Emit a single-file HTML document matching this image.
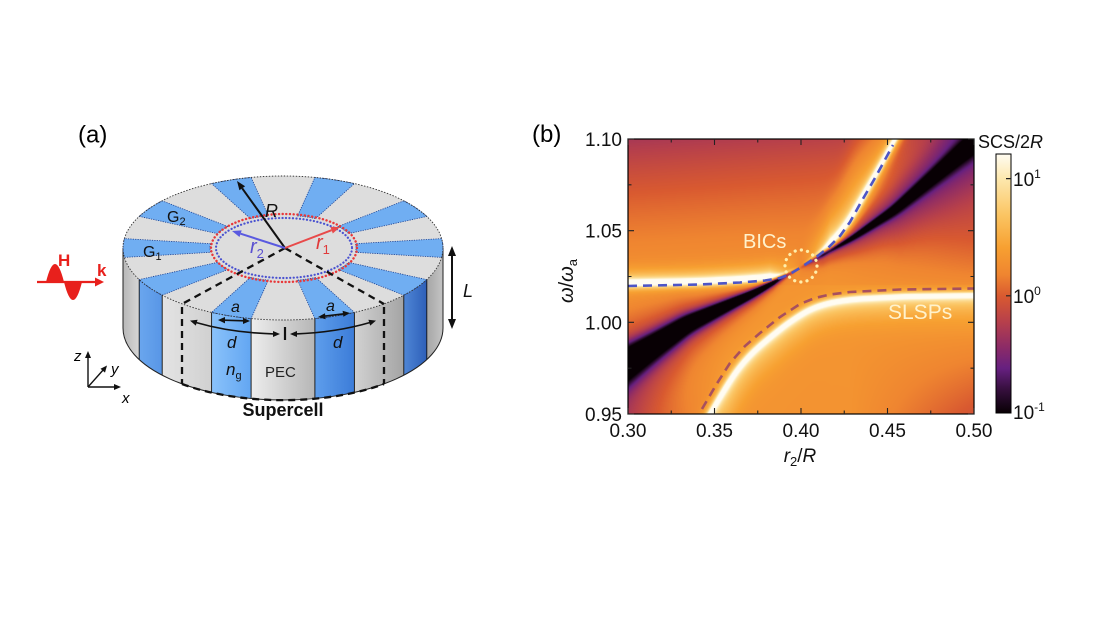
<!DOCTYPE html>
<html><head><meta charset="utf-8">
<style>
html,body{margin:0;padding:0;background:#fff;}
#wrap{position:relative;width:1110px;height:624px;overflow:hidden;background:#fff;}
#hm{position:absolute;left:628px;top:139px;width:346px;height:275px;background:linear-gradient(#c8503c,#e87a2c 40%,#f39a34 55%,#e0702c);}
svg{position:absolute;left:0;top:0;}
</style></head><body><div id="wrap">
<canvas id="hm" width="346" height="275"></canvas>
<svg width="1110" height="624" viewBox="0 0 1110 624" xmlns="http://www.w3.org/2000/svg" font-family="'Liberation Sans', Arial, sans-serif">
<defs>
<linearGradient id="gA" x1="0" x2="1" y1="0" y2="0"><stop offset="0" stop-color="#b8b8b8"/><stop offset="1" stop-color="#d6d6d6"/></linearGradient>
<linearGradient id="gB" x1="0" x2="1" y1="0" y2="0"><stop offset="0" stop-color="#e4e4e4"/><stop offset="1" stop-color="#d0d0d0"/></linearGradient>
<linearGradient id="gC" x1="0" x2="1" y1="0" y2="0"><stop offset="0" stop-color="#ededed"/><stop offset="1" stop-color="#b6b6b6"/></linearGradient>
<linearGradient id="gD" x1="0" x2="1" y1="0" y2="0"><stop offset="0" stop-color="#d2d2d2"/><stop offset="1" stop-color="#a4a4a4"/></linearGradient>
<linearGradient id="gE" x1="0" x2="1" y1="0" y2="0"><stop offset="0" stop-color="#a6a6a6"/><stop offset="1" stop-color="#c4c4c4"/></linearGradient>
<linearGradient id="b1" x1="0" x2="1" y1="0" y2="0"><stop offset="0" stop-color="#6aa6ee"/><stop offset="1" stop-color="#5896e6"/></linearGradient>
<linearGradient id="b2" x1="0" x2="1" y1="0" y2="0"><stop offset="0" stop-color="#8ac2fa"/><stop offset="1" stop-color="#62a6f2"/></linearGradient>
<linearGradient id="b3" x1="0" x2="1" y1="0" y2="0"><stop offset="0" stop-color="#5e9eec"/><stop offset="1" stop-color="#3c7cd8"/></linearGradient>
<linearGradient id="b4" x1="0" x2="1" y1="0" y2="0"><stop offset="0" stop-color="#4f86d6"/><stop offset="1" stop-color="#2d5fb8"/></linearGradient>
<linearGradient id="cb" x1="0" y1="1" x2="0" y2="0">
<stop offset="0" stop-color="#080004"/><stop offset="0.095" stop-color="#381040"/><stop offset="0.172" stop-color="#662080"/><stop offset="0.249" stop-color="#8a2a68"/><stop offset="0.353" stop-color="#b7404b"/><stop offset="0.452" stop-color="#d95a30"/><stop offset="0.534" stop-color="#ef8530"/><stop offset="0.638" stop-color="#f7a031"/><stop offset="0.765" stop-color="#fbc563"/><stop offset="0.905" stop-color="#fde8ae"/><stop offset="1" stop-color="#fffcf2"/>
</linearGradient>
</defs>

<!-- ===== Panel (a) ===== -->
<text x="78" y="142.5" font-size="24">(a)</text>

<path d="M123,248 A160,72 0 0 0 139.2,279.6 L139.2,359.6 A160,72 0 0 1 123,328 Z" fill="url(#gA)"/>
<path d="M139.2,279.6 A160,72 0 0 0 162.2,295.2 L162.2,375.2 A160,72 0 0 1 139.2,359.6 Z" fill="url(#b1)"/>
<path d="M162.2,295.2 A160,72 0 0 0 211.6,312.4 L211.6,392.4 A160,72 0 0 1 162.2,375.2 Z" fill="url(#gB)"/>
<path d="M211.6,312.4 A160,72 0 0 0 251.1,318.6 L251.1,398.6 A160,72 0 0 1 211.6,392.4 Z" fill="url(#b2)"/>
<path d="M251.1,318.6 A160,72 0 0 0 314.9,318.6 L314.9,398.6 A160,72 0 0 1 251.1,398.6 Z" fill="url(#gC)"/>
<path d="M314.9,318.6 A160,72 0 0 0 354.4,312.4 L354.4,392.4 A160,72 0 0 1 314.9,398.6 Z" fill="url(#b3)"/>
<path d="M354.4,312.4 A160,72 0 0 0 403.8,295.2 L403.8,375.2 A160,72 0 0 1 354.4,392.4 Z" fill="url(#gD)"/>
<path d="M403.8,295.2 A160,72 0 0 0 426.8,279.6 L426.8,359.6 A160,72 0 0 1 403.8,375.2 Z" fill="url(#b4)"/>
<path d="M426.8,279.6 A160,72 0 0 0 443,248 L443,328 A160,72 0 0 1 426.8,359.6 Z" fill="url(#gE)"/>
<g stroke="#111" stroke-width="0.9">
<line x1="139.2" y1="279.6" x2="139.2" y2="359.6"/><line x1="162.2" y1="295.2" x2="162.2" y2="375.2"/>
<line x1="211.6" y1="312.4" x2="211.6" y2="392.4"/><line x1="251.1" y1="318.6" x2="251.1" y2="398.6"/>
<line x1="314.9" y1="318.6" x2="314.9" y2="398.6"/><line x1="354.4" y1="312.4" x2="354.4" y2="392.4"/>
<line x1="403.8" y1="295.2" x2="403.8" y2="375.2"/><line x1="426.8" y1="279.6" x2="426.8" y2="359.6"/>
</g>
<path d="M123,248 L123,328 A160,72 0 0 0 443,328 L443,248" fill="none" stroke="#222" stroke-width="1"/>

<ellipse cx="283" cy="248" rx="160" ry="72" fill="#dddddd"/>
<g fill="#70aef2" stroke="#1c3f8f" stroke-width="0.8" stroke-dasharray="1.2 1.2">
<path d="M355.4,252.3 L441.6,257.4 A160,72 0 0 0 441.6,238.6 L355.4,243.7 A73,32.8 0 0 1 355.4,252.3 Z"/>
<path d="M348.6,233.6 L426.8,216.4 A160,72 0 0 0 403.8,200.8 L338.1,226.5 A73,32.8 0 0 1 348.6,233.6 Z"/>
<path d="M315.6,218.6 L354.4,183.6 A160,72 0 0 0 314.9,177.4 L297.6,215.9 A73,32.8 0 0 1 315.6,218.6 Z"/>
<path d="M268.4,215.9 L251.1,177.4 A160,72 0 0 0 211.6,183.6 L250.4,218.6 A73,32.8 0 0 1 268.4,215.9 Z"/>
<path d="M227.9,226.5 L162.2,200.8 A160,72 0 0 0 139.2,216.4 L217.4,233.6 A73,32.8 0 0 1 227.9,226.5 Z"/>
<path d="M210.6,243.7 L124.4,238.6 A160,72 0 0 0 124.4,257.4 L210.6,252.3 A73,32.8 0 0 1 210.6,243.7 Z"/>
<path d="M217.4,262.4 L139.2,279.6 A160,72 0 0 0 162.2,295.2 L227.9,269.5 A73,32.8 0 0 1 217.4,262.4 Z"/>
<path d="M250.4,277.4 L211.6,312.4 A160,72 0 0 0 251.1,318.6 L268.4,280.1 A73,32.8 0 0 1 250.4,277.4 Z"/>
<path d="M297.6,280.1 L314.9,318.6 A160,72 0 0 0 354.4,312.4 L315.6,277.4 A73,32.8 0 0 1 297.6,280.1 Z"/>
<path d="M338.1,269.5 L403.8,295.2 A160,72 0 0 0 426.8,279.6 L348.6,262.4 A73,32.8 0 0 1 338.1,269.5 Z"/>
</g>
<ellipse cx="283" cy="248" rx="160" ry="72" fill="none" stroke="#333" stroke-width="0.9" stroke-dasharray="1.5 1.5"/>

<ellipse cx="284" cy="248" rx="73" ry="34" fill="none" stroke="#e8383a" stroke-width="2.4" stroke-dasharray="0.1 3.6" stroke-linecap="round"/>
<ellipse cx="284" cy="248" rx="68" ry="30" fill="none" stroke="#4a52d0" stroke-width="2.2" stroke-dasharray="0.1 3.4" stroke-linecap="round"/>

<g fill="none" stroke="#111" stroke-width="2.3" stroke-dasharray="7 5">
<path d="M285,248 L182,304"/><path d="M285,248 L384,304"/>
<path d="M182,307 L182,384"/><path d="M384,307 L384,384"/>
<path d="M182,384 A160,72 0 0 0 384,384"/>
</g>

<line x1="285" y1="248" x2="242.2" y2="188.3" stroke="#111" stroke-width="2"/>
<polygon points="237,181 245.1,186.3 239.4,190.3" fill="#111"/>
<line x1="285" y1="248" x2="331.6" y2="230.2" stroke="#e84a4a" stroke-width="2"/>
<polygon points="340,227 332.8,233.5 330.4,226.9" fill="#e84a4a"/>
<line x1="285" y1="248" x2="240.6" y2="233.7" stroke="#5a5ae0" stroke-width="2"/>
<polygon points="232,231 241.7,230.4 239.5,237.0" fill="#5a5ae0"/>

<g stroke="#111" stroke-width="1.6">
<line x1="224" y1="320.2" x2="244" y2="320.8"/>
<line x1="324" y1="316.2" x2="344" y2="313.8"/>
</g>
<g fill="#111">
<polygon points="218,320 225,317 225,323.4"/>
<polygon points="250,321 243,317.8 243,324"/>
<polygon points="318,317 325,313.2 325.6,319.2"/>
<polygon points="350,313 342.6,310.8 343.4,316.8"/>
</g>
<g fill="none" stroke="#111" stroke-width="1.6">
<path d="M196,322.5 A160,72 0 0 0 274,333.9"/>
<path d="M296,333.9 A160,72 0 0 0 370,322.5"/>
<line x1="285" y1="327" x2="285" y2="340" stroke-width="2.2"/>
</g>
<g fill="#111">
<polygon points="190,320.6 197.6,319.8 195.8,325.6"/>
<polygon points="280,334 273,331 273,337"/>
<polygon points="290,334 297,331 297,337"/>
<polygon points="376,320.6 370.2,325.6 368.4,319.8"/>
</g>
<line x1="452" y1="254" x2="452" y2="321" stroke="#111" stroke-width="2"/>
<polygon points="452,246 448,256 456,256" fill="#111"/>
<polygon points="452,329 448,319 456,319" fill="#111"/>

<line x1="37" y1="282" x2="96" y2="282" stroke="#e8201c" stroke-width="2.2"/>
<polygon points="104,282 95,277.5 95,286.5" fill="#e8201c"/>
<path d="M46,282 Q55,246 64,282 Q73,318 82,282 Z" fill="#e8201c"/>
<text x="58" y="266" font-size="17" font-weight="bold" fill="#e8201c">H</text>
<text x="97" y="276" font-size="17" font-weight="bold" fill="#e8201c">k</text>

<g stroke="#111" stroke-width="1.4" fill="none">
<line x1="88" y1="387" x2="88" y2="356"/><line x1="88" y1="387" x2="116" y2="387"/><line x1="88" y1="387" x2="104" y2="369"/>
</g>
<g fill="#111">
<polygon points="88,351 85,358 91,358"/><polygon points="121,387 114,384 114,390"/><polygon points="107,365.5 100.5,368.8 105,372.6"/>
</g>
<text x="74" y="361" font-size="15" font-style="italic">z</text>
<text x="111" y="374" font-size="15" font-style="italic">y</text>
<text x="122" y="403" font-size="15" font-style="italic">x</text>

<text x="167" y="222" font-size="16" fill="#111">G<tspan font-size="11" dy="3">2</tspan></text>
<text x="143" y="257" font-size="16" fill="#111">G<tspan font-size="11" dy="3">1</tspan></text>
<text x="265" y="217" font-size="18" font-style="italic" fill="#111">R</text>
<text x="250" y="253" font-size="20" font-style="italic" fill="#5a50d0">r<tspan font-size="13" font-style="normal" dy="5">2</tspan></text>
<text x="316" y="249" font-size="20" font-style="italic" fill="#e03a3a">r<tspan font-size="13" font-style="normal" dy="5">1</tspan></text>
<text x="463" y="297" font-size="18" font-style="italic" fill="#111">L</text>
<text x="231" y="312" font-size="16" font-style="italic" fill="#111">a</text>
<text x="326" y="311" font-size="16" font-style="italic" fill="#111">a</text>
<text x="227" y="348" font-size="17" font-style="italic" fill="#111">d</text>
<text x="333" y="348" font-size="17" font-style="italic" fill="#111">d</text>
<text x="226" y="375" font-size="17" font-style="italic" fill="#111">n<tspan font-size="11" font-style="normal" dy="4">g</tspan></text>
<text x="265" y="377" font-size="15" fill="#222">PEC</text>
<text x="283" y="416" font-size="18" font-weight="bold" text-anchor="middle" fill="#111">Supercell</text>

<!-- ===== Panel (b) ===== -->
<text x="532" y="142" font-size="24">(b)</text>

<path d="M628,286 L700,284.5 L740,282.5 L765,280.5 L780,278 L790,274 L800,268 L815,258 L828,248 L840,236 L850,222 L860,204 L875,178 L893,145" fill="none" stroke="#4d55c6" stroke-width="2.6" stroke-dasharray="9 6"/>
<path d="M702,409 L716,385 L730,363 L745,346 L760,333 L780,317 L800,304 L815,298 L830,294.5 L850,292 L900,289.5 L974,288.5" fill="none" stroke="#a8505e" stroke-width="2.6" stroke-dasharray="9 6"/>
<circle cx="801" cy="266" r="16" fill="none" stroke="#ffeeaa" stroke-width="3.2" stroke-dasharray="0.1 6.2" stroke-linecap="round"/>
<text x="743" y="248" font-size="20" fill="#fff2cc">BICs</text>
<text x="888" y="319" font-size="21" fill="#fff2cc">SLSPs</text>

<rect x="628" y="139" width="346" height="275" fill="none" stroke="#000" stroke-width="1.2"/>
<path d="M628,139h6M628,230.7h6M628,322.3h6M628,414h6M628,184.8h3.5M628,276.5h3.5M628,368.2h3.5
M974,139h-6M974,230.7h-6M974,322.3h-6M974,414h-6M974,184.8h-3.5M974,276.5h-3.5M974,368.2h-3.5
M628,139v6M714.5,139v6M801,139v6M887.5,139v6M974,139v6M671.25,139v3.5M757.75,139v3.5M844.25,139v3.5M930.75,139v3.5
M628,414v-6M714.5,414v-6M801,414v-6M887.5,414v-6M974,414v-6M671.25,414v-3.5M757.75,414v-3.5M844.25,414v-3.5M930.75,414v-3.5" stroke="#222" stroke-width="1.1" fill="none"/>

<g font-size="19" fill="#111" text-anchor="end">
<text x="622" y="146">1.10</text><text x="622" y="237.7">1.05</text><text x="622" y="329.3">1.00</text><text x="622" y="421">0.95</text>
</g>
<g font-size="19" fill="#111" text-anchor="middle">
<text x="628" y="437">0.30</text><text x="714.5" y="437">0.35</text><text x="801" y="437">0.40</text><text x="887.5" y="437">0.45</text><text x="974" y="437">0.50</text>
</g>
<text x="800" y="462" font-size="19" text-anchor="middle" fill="#111"><tspan font-style="italic">r</tspan><tspan font-size="13" dy="4">2</tspan><tspan dy="-4">/</tspan><tspan font-style="italic">R</tspan></text>
<text transform="translate(573,281) rotate(-90)" font-size="20" text-anchor="middle" fill="#111"><tspan font-style="italic">ω</tspan>/<tspan font-style="italic">ω</tspan><tspan font-size="13" dy="4">a</tspan></text>

<rect x="996" y="154" width="15" height="259" fill="url(#cb)" stroke="#000" stroke-width="1"/>
<path d="M1011,178.6h-5M1011,295.8h-5" stroke="#222" stroke-width="1.2"/>
<text x="978" y="148" font-size="18" fill="#111">SCS/2<tspan font-style="italic">R</tspan></text>
<text x="1013" y="186" font-size="19" fill="#111">10<tspan font-size="12" dy="-8">1</tspan></text>
<text x="1013" y="303" font-size="19" fill="#111">10<tspan font-size="12" dy="-8">0</tspan></text>
<text x="1013" y="419" font-size="19" fill="#111">10<tspan font-size="12" dy="-8">-1</tspan></text>
</svg>
</div>
<script>
(function(){
var W=346,H=275,X0=628,Y0=139,OFF=150;
var cv=document.getElementById('hm');
if(!cv.getContext) return;
var ctx=cv.getContext('2d');
var im=ctx.createImageData(W,H);
var stops=[[-1,8,0,4],[-0.79,56,16,62],[-0.62,102,32,128],[-0.45,138,42,104],[-0.22,183,64,75],[0,217,90,48],[0.18,239,133,48],[0.41,247,160,49],[0.69,251,197,99],[1.0,253,232,174],[1.21,255,252,242]];
function cmap(v){
  if(v<=-1) return [8,0,4];
  if(v>=1.21) return [255,252,242];
  for(var i=0;i<stops.length-1;i++){var a=stops[i],b=stops[i+1];
    if(v<=b[0]){var t=(v-a[0])/(b[0]-a[0]);return [a[1]+t*(b[1]-a[1]),a[2]+t*(b[2]-a[2]),a[3]+t*(b[3]-a[3])];}}
  return [255,252,242];
}
function build(pts,dx,dy){
  var N=W+2*OFF,y=new Float64Array(N),k,i;
  for(k=0;k<N;k++){var X=X0-OFF+k-dx;i=0;
    while(i<pts.length-2 && X>pts[i+1][0]) i++;
    var a=pts[i],b=pts[i+1];
    y[k]=a[1]+(b[1]-a[1])*(X-a[0])/(b[0]-a[0])+dy;}
  var cur=y;
  for(var p=0;p<2;p++){var o=new Float64Array(N);
    for(k=0;k<N;k++){var s=0,c=0;for(var m=-6;m<=6;m++){var q=k+m;if(q>=0&&q<N){s+=cur[q];c++;}}o[k]=s/c;}
    cur=o;}
  var n=new Float64Array(N);
  for(k=0;k<N;k++){var k1=Math.max(0,k-1),k2=Math.min(N-1,k+1);var sl=(cur[k2]-cur[k1])/(k2-k1);n[k]=Math.sqrt(1+sl*sl);}
  return {y:cur,n:n};
}
var BLUE=[[500,287],[628,286],[700,284.5],[740,282.5],[765,280.5],[780,278],[790,274],[800,268],[815,258],[828,248],[840,236],[850,222],[860,204],[875,178],[893,145],[920,98],[1000,-40],[1200,-380]];
var RED=[[600,575],[702,409],[716,385],[730,363],[745,346],[760,333],[780,317],[800,304],[815,298],[830,294.5],[850,292],[900,289.5],[974,288.5],[1200,288]];
var DARK=[[450,470],[628,360],[633,357],[687,323],[753,293],[798,269],[853,237],[893,210],[937,172],[960,152],[1000,120],[1200,-40]];
var U=build(BLUE,0,-3),Lo=build(RED,6,6),Z=build(DARK,0,0);
function sq(v){return v*v;}
var d=im.data;
for(var j=0;j<H;j++){var Y=Y0+j+0.5;
  for(var i=0;i<W;i++){var X=X0+i+0.5,k=i+OFF;
    var L;
    if(Y<285) L=0.26-0.38*sq((285-Y)/146)-0.06*((285-Y)/146); else L=0.3;
    L-=0.12*Math.max(0,1-(X-628)/250)*Math.max(0,(285-Y)/146);
    L-=0.35*Math.max(0,(X-850)/124)*Math.max(0,(Y-330)/84);
    L-=0.35*Math.max(0,1-(X-628)/100)*Math.max(0,(Y-330)/84);
    L-=0.2*Math.max(0,(X-830)/144)*Math.exp(-sq((Y-230)/50));
    // dark Fano line
    var dz=(Y-Z.y[k])/Z.n[k];
    var ax=Math.abs(X-798);
    var t=Math.min(1,ax/170),fz=Math.min(1,ax/25);
    var wz,A1,A2,f2;
    if(X<798){wz=1+12.5*Math.pow(t,1.2);A1=1.5;A2=0.5;f2=2.8;}
    else {wz=1+6.5*Math.pow(t,1.2);A1=0.95;A2=0.55;f2=4;}
    if(dz>0) wz*=1.4;
    L-=fz*(A1*Math.exp(-sq(dz/wz))+A2*Math.exp(-sq(dz/(f2*wz))));
    // upper bright line
    var du=(Y-U.y[k])/U.n[k];
    var fu=Math.min(1,Math.abs(X-800)/30);
    var wu=0.3+2.8*fu;
    L+=1.3*fu/(1+sq(du/wu));
    if(du<0){var gw=X>800?14+(X-800)*0.35:14;var ga=X>800?0.4:0.35;L+=fu*ga*Math.exp(-sq(du/gw));}
    else L+=fu*0.25*Math.exp(-sq(du/7));
    // lower bright line
    var dl=(Y-Lo.y[k])/Lo.n[k];
    L+=1.0/(1+sq(dl/(dl<0?2.5:4)));
    if(dl>0) L+=0.32*Math.exp(-sq(dl/24)); else L+=0.1*Math.exp(-sq(dl/6));
    var c=cmap(L),p=(j*W+i)*4;
    d[p]=c[0];d[p+1]=c[1];d[p+2]=c[2];d[p+3]=255;
  }}
ctx.putImageData(im,0,0);
})();
</script>
</body></html>
